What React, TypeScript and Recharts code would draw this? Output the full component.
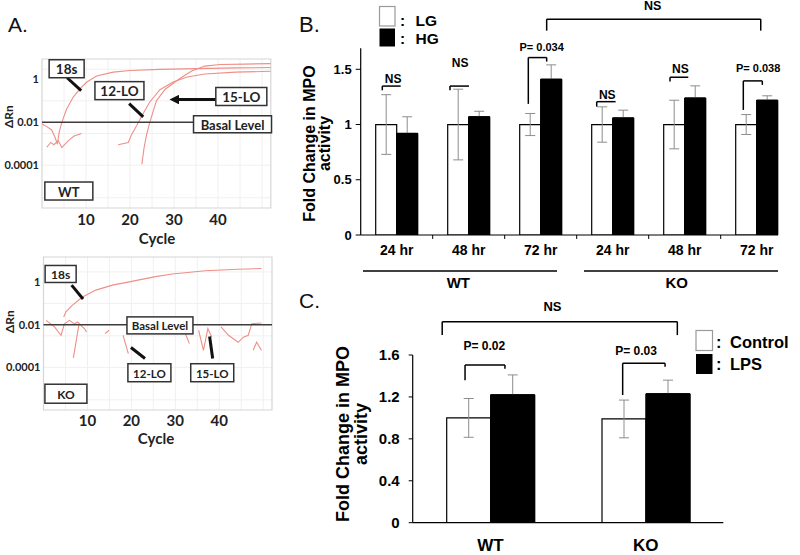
import React from 'react';
import {
  ComposedChart, BarChart, Line, Bar, XAxis, YAxis, CartesianGrid,
  ReferenceLine, ReferenceDot, ReferenceArea, ErrorBar,
} from 'recharts';

// ---------------- Panel A: amplification curves (ΔRn vs cycle) ----------------
const wt18sCycles = [0, 1.1, 2.2, 3.0, 3.5, 3.9, 4.5, 5.6, 7.1, 8.6, 10.2, 12.4, 16.2, 20, 26.8, 35, 44, 52];
const wt18sValues = [0.0083, 0.0063, 0.0044, 0.0019, 0.00095, 0.0034, 0.01, 0.042, 0.15, 0.36, 0.76, 1.45, 2.2, 2.6, 2.95, 3.2, 3.45, 3.6];

const wt12LoCycles = [1.1, 2.0, 2.7, 3.7, 4.5, 6.0, 7.3, 9.0, 13, 17.3, 19.6, 20.4, 21.5, 22.7, 24.5, 26.8, 29.8, 33, 37, 44, 52];
const wt12LoValues = [0.0007, 0.00115, 0.0009, 0.0014, 0.00066, 0.0014, 0.0023, 0.003, null, 0.00089, 0.00115, 0.0028, 0.0069, 0.02, 0.089, 0.33, 0.76, 1.3, 1.8, 2.2, 2.4];

const wt15LoCycles = [22.7, 23.2, 23.8, 24.5, 26.0, 28.0, 31.0, 34.0, 37.0, 40.5, 46, 52];
const wt15LoValues = [0.00011, 0.00066, 0.0028, 0.01, 0.1, 0.35, 1.0, 2.5, 4.2, 5.0, 5.2, 5.5];

const ko18sCycles = [4.6, 5.1, 6.6, 8.9, 11.9, 15.7, 19.5, 25.5, 29.3, 36.8, 44.3, 49.6];
const ko18sValues = [0.023, 0.04, 0.083, 0.2, 0.42, 0.72, 1.02, 1.8, 2.4, 3.4, 4.0, 4.3];

const ko12LoCycles = [0.6, 2.5, 4.0, 4.75, 5.9, 7.0, 7.8, 8.5, 9.3, 9.8, 12, 14.0, 14.9, 16, 18.1, 19.3, 25, 32.3, 33.2, 40, 47.7, 48.5, 49.6];
const ko12LoValues = [0.016, 0.0079, 0.0032, 0.011, 0.016, 0.011, 0.0135, 0.0093, 0.0066, 0.0046, null, 0.0038, 0.0055, null, 0.0032, 0.00044, null, 0.0038, 0.0013, null, 0.00063, 0.0015, 0.00063];

const ko15LoCycles = [6.8, 8.1, 9, 35.3, 36.4, 37.4, 38.3, 39.4, 40.4, 42.1, 43.2, 44.3, 45.5, 46.6, 47.4, 49.6];
const ko15LoValues = [0.00028, 0.0112, null, 0.0055, 0.00063, 0.0066, 0.0026, null, 0.0079, 0.0032, 0.0022, 0.0015, 0.0026, 0.0032, 0.0112, 0.012];

const cycleTicks = [10, 20, 30, 40];
const deltaRnTicks = [0.0001, 0.01, 1];
const basalLevel = 0.01;

// ---------------- Panel B: MPO activity, LG vs HG ----------------
const bTimeLabels = ['24 hr', '48 hr', '72 hr', '24 hr', '48 hr', '72 hr'];
const bLgMean = [1, 1, 1, 1, 1, 1];
const bLgErr = [0.27, 0.32, 0.1, 0.16, 0.22, 0.09];
const bHgMean = [0.92, 1.07, 1.41, 1.06, 1.24, 1.22];
const bHgErr = [0.15, 0.05, 0.13, 0.07, 0.11, 0.04];
const bTicks = [0, 0.5, 1, 1.5];

// ---------------- Panel C: MPO activity, Control vs LPS ----------------
const cGroups = ['WT', 'KO'];
const cControlMean = [1.0, 0.99];
const cControlErr = [0.185, 0.18];
const cLpsMean = [1.22, 1.23];
const cLpsErr = [0.19, 0.13];
const cTicks = [0, 0.4, 0.8, 1.2, 1.6];

// ---------------- styling / annotation placement ----------------
const ARIAL = "'Liberation Sans', Arial, sans-serif";
const CALIBRI = "Lato, 'Open Sans', sans-serif";
const CURVE = '#ef8f88';

const gridX = [5, 10, 15, 20, 25, 30, 35, 40, 45, 50];
const gridY = [3e-6, 1e-5, 3e-5, 1e-4, 3e-4, 1e-3, 3e-3, 1e-2, 3e-2, 1e-1, 3e-1, 1, 3];

const toPoints = (cycles: number[], values: (number | null)[]) =>
  cycles.map((c, i) => ({ cycle: c, value: values[i] }));

type Box = { x: number; y: number; text: string; w: number; h: number; fs: number };
type Arrow = { x1: number; y1: number; x2: number; y2: number; head?: boolean };

const wtBoxes: Box[] = [
  { x: 5.6, y: 3.16, text: '18s', w: 35, h: 18, fs: 13.5 },
  { x: 17.6, y: 0.3, text: '12-LO', w: 49, h: 18, fs: 13.5 },
  { x: 45.3, y: 0.16, text: '15-LO', w: 51, h: 18, fs: 13.5 },
  { x: 43.3, y: 0.0081, text: 'Basal Level', w: 78, h: 17, fs: 13 },
  { x: 6.1, y: 6.2e-6, text: 'WT', w: 48, h: 18, fs: 13 },
];
const wtArrows: Arrow[] = [
  { x1: 5.7, y1: 1.2, x2: 8.9, y2: 0.3 },
  { x1: 19.8, y1: 0.074, x2: 23.0, y2: 0.018 },
  { x1: 39.5, y1: 0.115, x2: 30.5, y2: 0.115, head: true },
];
const koBoxes: Box[] = [
  { x: 3.9, y: 2.4, text: '18s', w: 31, h: 17, fs: 12 },
  { x: 26.5, y: 0.0093, text: 'Basal Level', w: 66, h: 17, fs: 11.5 },
  { x: 24.1, y: 5.6e-5, text: '12-LO', w: 43, h: 18, fs: 11.5 },
  { x: 38.4, y: 5.6e-5, text: '15-LO', w: 43, h: 18, fs: 11.5 },
  { x: 5.1, y: 5.8e-6, text: 'KO', w: 42, h: 19, fs: 12 },
];
const koArrows: Arrow[] = [
  { x1: 6.4, y1: 0.72, x2: 9.0, y2: 0.16 },
  { x1: 23.1, y1: 0.00026, x2: 19.9, y2: 0.00085 },
  { x1: 38.5, y1: 0.00026, x2: 37.8, y2: 0.0028 },
];

// bracket / note positions are in "category units" (0 = left end of the x axis, 1 = one category wide)
type Bracket = { x1: number; x2: number; y: number; yL: number; yR: number };
type Note = { x: number; y: number; text: string; fs: number };

const bBrackets: Bracket[] = [
  { x1: 0.3, x2: 0.555, y: 1.348, yL: 1.31, yR: 1.348 },
  { x1: 1.24, x2: 1.504, y: 1.348, yL: 1.31, yR: 1.348 },
  { x1: 2.328, x2: 2.583, y: 1.606, yL: 1.187, yR: 1.57 },
  { x1: 3.278, x2: 3.54, y: 1.207, yL: 1.162, yR: 1.207 },
  { x1: 4.296, x2: 4.55, y: 1.428, yL: 1.389, yR: 1.428 },
  { x1: 5.314, x2: 5.578, y: 1.395, yL: 1.132, yR: 1.359 },
  { x1: 2.583, x2: 5.556, y: 1.954, yL: 1.85, yR: 1.85 },
];
const bNotes: Note[] = [
  { x: 0.45, y: 1.41, text: 'NS', fs: 12 },
  { x: 1.38, y: 1.555, text: 'NS', fs: 12 },
  { x: 2.513, y: 1.706, text: 'P= 0.034', fs: 11 },
  { x: 3.425, y: 1.268, text: 'NS', fs: 12 },
  { x: 4.44, y: 1.5, text: 'NS', fs: 12 },
  { x: 5.52, y: 1.51, text: 'P= 0.038', fs: 11 },
  { x: 4.055, y: 2.074, text: 'NS', fs: 12.5 },
];
const cBrackets: Bracket[] = [
  { x1: 0.19, x2: 1.704, y: 1.918, yL: 1.79, yR: 1.79 },
  { x1: 0.337, x2: 0.594, y: 1.505, yL: 1.36, yR: 1.47 },
  { x1: 1.352, x2: 1.625, y: 1.521, yL: 1.218, yR: 1.489 },
];
const cNotes: Note[] = [
  { x: 0.9, y: 2.06, text: 'NS', fs: 13 },
  { x: 0.461, y: 1.686, text: 'P= 0.02', fs: 12 },
  { x: 1.438, y: 1.64, text: 'P= 0.03', fs: 12 },
];

const boxShape = (b: Box) => (p: any) => (
  <g>
    <rect x={p.cx - b.w / 2} y={p.cy - b.h / 2} width={b.w} height={b.h} fill="#fff" stroke="#333" strokeWidth={1.5} />
    <text x={p.cx} y={p.cy + 0.5} textAnchor="middle" dominantBaseline="central" fontFamily={CALIBRI}
      fontWeight={700} fontSize={b.fs} fill="#222">{b.text}</text>
  </g>
);

const noteShape = (n: Note) => (p: any) => (
  <text x={p.cx} y={p.cy} textAnchor="middle" dominantBaseline="central" fontFamily={ARIAL}
    fontWeight={700} fontSize={n.fs} fill="#000">{n.text}</text>
);

function renderBrackets(list: Bracket[], prefix: string) {
  const out: any[] = [];
  list.forEach((b, i) => {
    const common = { stroke: '#000', strokeWidth: 1.5, ifOverflow: 'visible' as const };
    out.push(<ReferenceLine key={`${prefix}l${i}`} {...common} segment={[{ x: b.x1, y: b.yL }, { x: b.x1, y: b.y }]} />);
    out.push(<ReferenceLine key={`${prefix}t${i}`} {...common} segment={[{ x: b.x1, y: b.y }, { x: b.x2, y: b.y }]} />);
    if (b.yR !== b.y) {
      out.push(<ReferenceLine key={`${prefix}r${i}`} {...common} segment={[{ x: b.x2, y: b.y }, { x: b.x2, y: b.yR }]} />);
    }
  });
  return out;
}

function renderNotes(list: Note[], prefix: string) {
  return list.map((n, i) => (
    <ReferenceDot key={`${prefix}${i}`} x={n.x} y={n.y} r={0} ifOverflow="visible" shape={noteShape(n)} />
  ));
}

function AmplificationPlot(props: {
  series: { cycles: number[]; values: (number | null)[] }[];
  yMax: number; boxes: Box[]; arrows: Arrow[];
  margin: any; yAxisWidth: number; tickMargin: number;
}) {
  const { series, yMax, boxes, arrows, margin, yAxisWidth, tickMargin } = props;
  return (
    <ComposedChart width={280} height={210} margin={margin}>
      <CartesianGrid stroke="#f0f0f0" horizontalValues={gridY} verticalValues={gridX} />
      <ReferenceArea x1={0} x2={52} y1={1e-6} y2={yMax} fill="none" stroke="#d6d6d6" strokeWidth={1.2} ifOverflow="visible" />
      <XAxis type="number" dataKey="cycle" domain={[0, 52]} ticks={cycleTicks} allowDataOverflow
        axisLine={false} tickLine={false} tickSize={0} tickMargin={tickMargin} height={30}
        tick={{ fill: '#222', fontSize: 15, fontWeight: 700, fontFamily: CALIBRI }} />
      <YAxis type="number" scale="log" domain={[1e-6, yMax]} ticks={deltaRnTicks} allowDataOverflow
        axisLine={false} tickLine={false} tickSize={0} tickMargin={3} width={yAxisWidth}
        tickFormatter={(v: number) => String(v)}
        tick={{ fill: '#222', fontSize: 11, fontWeight: 700, fontFamily: CALIBRI }} />
      {series.map((s, i) => (
        <Line key={i} data={toPoints(s.cycles, s.values)} dataKey="value" type="linear" stroke={CURVE}
          strokeWidth={1.1} dot={false} activeDot={false} connectNulls={false} isAnimationActive={false} />
      ))}
      <ReferenceLine y={basalLevel} stroke="#3c3c3c" strokeWidth={1.6} />
      {arrows.map((a, i) => (
        <ReferenceLine key={`a${i}`} segment={[{ x: a.x1, y: a.y1 }, { x: a.x2, y: a.y2 }]} stroke="#111"
          strokeWidth={3} ifOverflow="visible" markerEnd={a.head ? 'url(#arrowHead)' : undefined} />
      ))}
      {boxes.map((b, i) => (
        <ReferenceDot key={`b${i}`} x={b.x} y={b.y} r={0} ifOverflow="visible" shape={boxShape(b)} />
      ))}
    </ComposedChart>
  );
}

const bData = bTimeLabels.map((t, i) => ({ time: t, lg: bLgMean[i], lgErr: bLgErr[i], hg: bHgMean[i], hgErr: bHgErr[i] }));
const cData = cGroups.map((g, i) => ({ group: g, ctrl: cControlMean[i], ctrlErr: cControlErr[i], lps: cLpsMean[i], lpsErr: cLpsErr[i] }));

// layout of panel B and C plot rectangles
const B = { w: 530, h: 290, top: 48.3, right: 7.3, left: 90.7, bottom: 55, yMax: 1.69, n: 6 };
const C = { w: 530, h: 275, top: 75, right: 76.7, left: 142.7, bottom: 32.3, yMax: 1.6, n: 2 };

const layer: React.CSSProperties = { position: 'absolute', left: 0, top: 0, pointerEvents: 'none' };

function PanelB() {
  const m = { top: B.top, right: B.right, bottom: B.bottom, left: B.left };
  return (
    <div style={{ position: 'relative', width: B.w, height: B.h }}>
      {/* base: axes, bars and error bars */}
      <div style={layer}>
        <BarChart width={B.w} height={B.h} data={bData} margin={{ top: B.top, right: B.right, bottom: B.bottom - 30, left: 0 }} barGap={0} barSize={21}>
          <XAxis dataKey="time" interval={0} axisLine={false} tickLine={false} tickSize={0} tickMargin={10} height={30}
            tick={{ fill: '#000', fontSize: 14, fontWeight: 700, fontFamily: ARIAL }} />
          <YAxis domain={[0, B.yMax]} ticks={bTicks} allowDataOverflow width={B.left} tickSize={5} tickMargin={4}
            axisLine={{ stroke: '#000', strokeWidth: 1.2 }} tickLine={{ stroke: '#000' }}
            tick={{ fill: '#000', fontSize: 13, fontWeight: 700, fontFamily: ARIAL }} />
          <Bar dataKey="lg" fill="#fff" stroke="#000" strokeWidth={1.2} isAnimationActive={false}>
            <ErrorBar dataKey="lgErr" width={5} stroke="#8d8d8d" strokeWidth={1} />
          </Bar>
          <Bar dataKey="hg" fill="#000" stroke="#000" strokeWidth={1} isAnimationActive={false}>
            <ErrorBar dataKey="hgErr" width={5} stroke="#8d8d8d" strokeWidth={1} />
          </Bar>
        </BarChart>
      </div>
      {/* HG bars again on top, so their error bars sit behind the solid bars */}
      <div style={layer}>
        <BarChart width={B.w} height={B.h} data={bData} margin={m} barGap={0} barSize={21}>
          <XAxis dataKey="time" hide />
          <YAxis domain={[0, B.yMax]} allowDataOverflow hide />
          <Bar dataKey="lg" fill="none" stroke="none" isAnimationActive={false} />
          <Bar dataKey="hg" fill="#000" stroke="#000" strokeWidth={1} isAnimationActive={false} />
        </BarChart>
      </div>
      {/* annotations in category units */}
      <div style={layer}>
        <ComposedChart width={B.w} height={B.h} margin={m}>
          <XAxis type="number" dataKey="x" domain={[0, B.n]} allowDataOverflow hide />
          <YAxis type="number" domain={[0, B.yMax]} allowDataOverflow hide />
          <ReferenceLine segment={[{ x: 0, y: 0 }, { x: 5.796, y: 0 }]} stroke="#000" strokeWidth={1.2} ifOverflow="visible" />
          {[1, 2, 3, 4, 5].map((k) => (
            <ReferenceLine key={`tk${k}`} segment={[{ x: k, y: 0 }, { x: k, y: -0.036 }]} stroke="#000" ifOverflow="visible" />
          ))}
          {renderBrackets(bBrackets, 'bb')}
          {renderNotes(bNotes, 'bn')}
        </ComposedChart>
      </div>
    </div>
  );
}

function PanelC() {
  const m = { top: C.top, right: C.right, bottom: C.bottom, left: C.left };
  return (
    <div style={{ position: 'relative', width: C.w, height: C.h }}>
      <div style={layer}>
        <BarChart width={C.w} height={C.h} data={cData} margin={{ top: C.top, right: C.right, bottom: C.bottom - 30, left: 0 }} barGap={0} barSize={44}>
          <XAxis dataKey="group" axisLine={{ stroke: '#000', strokeWidth: 1.2 }} tickLine={false} tickSize={0} tickMargin={16} height={30}
            tick={{ fill: '#000', fontSize: 17, fontWeight: 700, fontFamily: ARIAL }} />
          <YAxis domain={[0, C.yMax]} ticks={cTicks} allowDataOverflow width={C.left} tickSize={4} tickMargin={9}
            axisLine={{ stroke: '#000', strokeWidth: 1.2 }} tickLine={{ stroke: '#000' }}
            tick={{ fill: '#000', fontSize: 15, fontWeight: 700, fontFamily: ARIAL }} />
          <Bar dataKey="ctrl" fill="#fff" stroke="#000" strokeWidth={1.2} isAnimationActive={false}>
            <ErrorBar dataKey="ctrlErr" width={5} stroke="#8d8d8d" strokeWidth={1} />
          </Bar>
          <Bar dataKey="lps" fill="#000" stroke="#000" strokeWidth={1} isAnimationActive={false}>
            <ErrorBar dataKey="lpsErr" width={5} stroke="#8d8d8d" strokeWidth={1} />
          </Bar>
        </BarChart>
      </div>
      <div style={layer}>
        <BarChart width={C.w} height={C.h} data={cData} margin={m} barGap={0} barSize={44}>
          <XAxis dataKey="group" hide />
          <YAxis domain={[0, C.yMax]} allowDataOverflow hide />
          <Bar dataKey="ctrl" fill="none" stroke="none" isAnimationActive={false} />
          <Bar dataKey="lps" fill="#000" stroke="#000" strokeWidth={1} isAnimationActive={false} />
        </BarChart>
      </div>
      <div style={layer}>
        <ComposedChart width={C.w} height={C.h} margin={m}>
          <XAxis type="number" dataKey="x" domain={[0, C.n]} allowDataOverflow hide />
          <YAxis type="number" domain={[0, C.yMax]} allowDataOverflow hide />
          {renderBrackets(cBrackets, 'cb')}
          {renderNotes(cNotes, 'cn')}
        </ComposedChart>
      </div>
    </div>
  );
}

const rot = (x: number, y: number) => `rotate(-90 ${x} ${y})`;

function Overlay() {
  const bold = { fontFamily: ARIAL, fontWeight: 700, fill: '#000' } as const;
  const cal = { fontFamily: CALIBRI, fontWeight: 700, fill: '#222' } as const;
  return (
    <svg width={800} height={555} style={{ position: 'absolute', left: 0, top: 0, pointerEvents: 'none', overflow: 'visible' }}>
      <defs>
        <marker id="arrowHead" viewBox="0 0 10 10" refX="3" refY="5" markerWidth="3.2" markerHeight="3.2" orient="auto">
          <path d="M0,0 L10,5 L0,10 z" fill="#111" />
        </marker>
      </defs>
      <text x={8} y={31.5} fontFamily={ARIAL} fontSize={21} fill="#111">A.</text>
      <text x={299} y={32} fontFamily={ARIAL} fontSize={22} fill="#111">B.</text>
      <text x={299} y={308.3} fontFamily={ARIAL} fontSize={21} fill="#111">C.</text>

      <text x={13} y={116.7} transform={rot(13, 116.7)} textAnchor="middle" fontSize={12} {...cal}>ΔRn</text>
      <text x={14} y={321.7} transform={rot(14, 321.7)} textAnchor="middle" fontSize={12} {...cal}>ΔRn</text>
      <text x={157} y={244} textAnchor="middle" fontSize={15} {...cal}>Cycle</text>
      <text x={156} y={444} textAnchor="middle" fontSize={15} {...cal}>Cycle</text>

      <text x={315} y={143.5} transform={rot(315, 143.5)} textAnchor="middle" fontSize={16} {...bold}>Fold Change in MPO</text>
      <text x={330} y={143.5} transform={rot(330, 143.5)} textAnchor="middle" fontSize={16} {...bold}>activity</text>
      <text x={348.5} y={434} transform={rot(348.5, 434)} textAnchor="middle" fontSize={18} {...bold}>Fold Change in MPO</text>
      <text x={366.5} y={434} transform={rot(366.5, 434)} textAnchor="middle" fontSize={18} {...bold}>activity</text>

      <line x1={363} y1={271} x2={557} y2={271} stroke="#000" strokeWidth={1.3} />
      <line x1={584} y1={271} x2={778} y2={271} stroke="#000" strokeWidth={1.3} />
      <text x={458.3} y={288} textAnchor="middle" fontSize={15} {...bold}>WT</text>
      <text x={676.7} y={288} textAnchor="middle" fontSize={15} {...bold}>KO</text>

      <rect x={379.5} y={6.5} width={15.5} height={19.5} fill="#fff" stroke="#9a9a9a" strokeWidth={1.2} />
      <rect x={379.5} y={28.5} width={15.5} height={18} fill="#000" />
      <text x={400} y={26} fontSize={15.5} {...bold}>:</text>
      <text x={415.5} y={26} fontSize={15.5} {...bold}>LG</text>
      <text x={400} y={44} fontSize={15.5} {...bold}>:</text>
      <text x={415.5} y={44} fontSize={15.5} {...bold}>HG</text>

      <rect x={696} y={330.5} width={16.5} height={20} fill="#fff" stroke="#9a9a9a" strokeWidth={1.2} />
      <rect x={696} y={354} width={16.5} height={20} fill="#000" />
      <text x={716} y={348} fontSize={16.5} {...bold}>:</text>
      <text x={730} y={348} fontSize={16.5} {...bold}>Control</text>
      <text x={716} y={370} fontSize={16.5} {...bold}>:</text>
      <text x={730} y={370} fontSize={16.5} {...bold}>LPS</text>
    </svg>
  );
}

export default function App() {
  return (
    <div style={{ position: 'absolute', left: 0, top: 0, width: 800, height: 555, background: '#fff', overflow: 'hidden' }}>
      <div style={{ position: 'absolute', left: 0, top: 40 }}>
        <AmplificationPlot
          series={[
            { cycles: wt18sCycles, values: wt18sValues },
            { cycles: wt12LoCycles, values: wt12LoValues },
            { cycles: wt15LoCycles, values: wt15LoValues },
          ]}
          yMax={9} boxes={wtBoxes} arrows={wtArrows}
          margin={{ top: 19, right: 9.2, bottom: 12, left: 0 }} yAxisWidth={42} tickMargin={6}
        />
      </div>
      <div style={{ position: 'absolute', left: 0, top: 240 }}>
        <AmplificationPlot
          series={[
            { cycles: ko18sCycles, values: ko18sValues },
            { cycles: ko12LoCycles, values: ko12LoValues },
            { cycles: ko15LoCycles, values: ko15LoValues },
          ]}
          yMax={15} boxes={koBoxes} arrows={koArrows}
          margin={{ top: 17, right: 8, bottom: 10, left: 0 }} yAxisWidth={43.5} tickMargin={5}
        />
      </div>
      <div style={{ position: 'absolute', left: 270, top: 0 }}>
        <PanelB />
      </div>
      <div style={{ position: 'absolute', left: 270, top: 280 }}>
        <PanelC />
      </div>
      <Overlay />
    </div>
  );
}
